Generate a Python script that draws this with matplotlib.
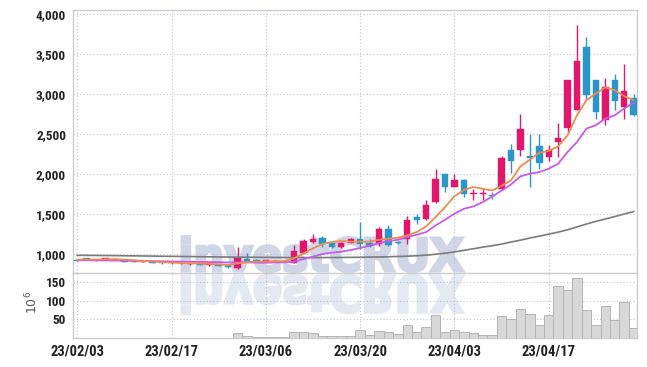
import matplotlib
matplotlib.use('Agg')
import matplotlib.pyplot as plt
import numpy as np
import pandas as pd
from matplotlib import font_manager
from matplotlib.font_manager import FontProperties
from matplotlib.textpath import TextPath
from matplotlib.patches import PathPatch
from matplotlib.transforms import Affine2D, IdentityTransform

# trading days (Mar 1 is a market holiday)
dates = pd.bdate_range('2023-02-03', '2023-04-28')
dates = dates[dates != pd.Timestamp('2023-03-01')]

opens = [918, 940, 916, 925, 930, 922, 910, 895, 902, 898,
         880, 878, 868, 875, 855, 860, 862, 824, 930, 925,
         898, 905, 912, 888, 1013, 1150, 1200, 1130, 1078, 1138,
         1190, 1130, 1117, 1304, 1145, 1188, 1463, 1433, 1642, 2000,
         1835, 1928, 1748, 1742, 1732, 1814, 2296, 2296, 2220, 2346,
         2212, 2400, 2576, 2806, 3589, 3175, 2681, 3175, 2840, 2957]
highs = [925, 946, 930, 946, 942, 928, 915, 910, 906, 902,
         895, 892, 885, 880, 878, 865, 866, 1078, 1010, 935,
         922, 915, 918, 1105, 1190, 1250, 1222, 1140, 1150, 1200,
         1400, 1190, 1333, 1354, 1160, 1467, 1500, 1667, 2063, 2002,
         2000, 1930, 1815, 1812, 1770, 2230, 2379, 2756, 2505, 2505,
         2367, 2643, 3180, 3866, 3711, 3183, 3196, 3250, 3372, 3007]
lows = [910, 918, 912, 920, 925, 895, 890, 890, 880, 875,
        875, 872, 862, 855, 850, 842, 825, 812, 905, 895,
        895, 898, 898, 880, 1005, 1130, 1088, 1075, 1070, 1130,
        1063, 1090, 1092, 1092, 1120, 1117, 1375, 1417, 1633, 1775,
        1833, 1705, 1667, 1675, 1688, 1800, 2011, 2220, 1835, 2057,
        2157, 2212, 2513, 2798, 2924, 2693, 2610, 2798, 2693, 2723]
closes = [914, 922, 926, 940, 936, 900, 896, 905, 885, 880,
          890, 888, 880, 860, 872, 848, 830, 940, 912, 902,
          918, 910, 904, 1033, 1163, 1185, 1118, 1080, 1140, 1185,
          1117, 1100, 1312, 1108, 1135, 1417, 1417, 1604, 1938, 1835,
          1928, 1751, 1755, 1758, 1722, 2195, 2157, 2559, 2203, 2136,
          2296, 2446, 3175, 3413, 2986, 2777, 3083, 2915, 3037, 2735]
volumes = [1, 1, 1, 1, 1, 1, 1, 1, 1, 1,
           1, 1, 1, 1, 1, 1, 1, 13.6, 6.5, 2,
           2, 2, 2, 16.3, 16.3, 12.6, 6.5, 6.5, 6.5, 4.5,
           21.6, 8.2, 19, 16.3, 11, 35, 17, 29.7, 61.8, 16.3,
           21.6, 17, 13.6, 8.2, 8.2, 59, 51, 77.8, 64.4, 35,
           61.8, 139, 128.6, 160.7, 75, 35, 85.8, 49, 96.5, 27]
ma_short = [925, 927, 926, 929, 931, 926, 918, 910, 902, 895,
            889, 885, 881, 877, 873, 866, 858, 878, 896, 900,
            904, 904, 908, 941, 1004, 1067, 1121, 1146, 1159, 1150,
            1150, 1150, 1175, 1188, 1200, 1229, 1271, 1342, 1458, 1583,
            1720, 1797, 1836, 1813, 1792, 1850, 1919, 2095, 2178, 2266,
            2287, 2346, 2484, 2735, 2924, 3007, 3083, 3049, 2974, 2924]
ma_mid = [918, 917, 916, 915, 914, 913, 911, 909, 907, 905,
          903, 901, 899, 897, 895, 893, 890, 890, 891, 888,
          887, 890, 891, 900, 933, 962, 996, 1013, 1025, 1046,
          1071, 1100, 1133, 1158, 1175, 1208, 1237, 1271, 1354, 1425,
          1500, 1563, 1592, 1646, 1717, 1790, 1868, 1969, 2002, 2023,
          2065, 2128, 2275, 2400, 2568, 2610, 2693, 2735, 2819, 2890]
ma_long = [980, 979, 978, 977, 976, 974, 973, 971, 970, 968,
           967, 965, 964, 962, 961, 959, 958, 957, 956, 955,
           954, 953, 952, 952, 951, 951, 951, 952, 953, 954,
           955, 957, 959, 962, 965, 969, 974, 982, 993, 1006,
           1022, 1042, 1062, 1082, 1100, 1120, 1146, 1170, 1196, 1220,
           1245, 1270, 1300, 1335, 1372, 1405, 1435, 1465, 1497, 1527]

UP = '#e2176c'
DOWN = '#2b97c9'
GRID = '#bcc4d8'
SPINE = '#cccccc'

names = {f.name for f in font_manager.fontManager.ttflist}
tick_font = next((n for n in ['Roboto Condensed', 'Liberation Sans Narrow', 'Roboto']
                  if n in names), 'DejaVu Sans')

W, H = 647, 367
fig = plt.figure(figsize=(W / 100, H / 100), dpi=100)
fig.patch.set_facecolor('white')

ax = fig.add_axes([73 / W, 1 - 273 / H, 564 / W, 263 / H])
axv = fig.add_axes([73 / W, 1 - 338 / H, 564 / W, 65 / H], sharex=ax)

x = np.arange(len(dates))
o = np.array(opens, float)
c = np.array(closes, float)
up = c >= o
cols = [UP if u else DOWN for u in up]

# candles
ax.vlines(x, lows, highs, colors=cols, linewidth=1.0, zorder=3)
body_h = np.maximum(np.abs(c - o), 8)
ax.bar(x, body_h, bottom=np.minimum(o, c), width=0.68, color=cols,
       edgecolor=cols, linewidth=0.3, zorder=4)

# moving averages
ax.plot(x, ma_long, color='#7b7b7b', linewidth=1.2, zorder=5)
ax.plot(x, ma_mid, color='#c95ae9', linewidth=1.3, zorder=5)
ax.plot(x, ma_short, color='#ef8a50', linewidth=1.3, zorder=5)

# volume
axv.bar(x, volumes, width=1.0, color='#d8d8d8', edgecolor='#b4b4b4',
        linewidth=0.7, zorder=3)

ax.set_xlim(-0.45, 59.36)
ax.set_ylim(758, 4054)
axv.set_ylim(0, 174)

ticks = list(range(0, len(dates), 10))
for a in (ax, axv):
    a.set_facecolor('none')
    a.set_xticks(ticks)
    a.grid(True, color=GRID, linestyle=(0, (1, 2)), linewidth=0.8, zorder=0)
    a.set_axisbelow(True)
    a.tick_params(length=0, colors='#222222', pad=5)
    for s in a.spines.values():
        s.set_color(SPINE)
        s.set_linewidth(1.0)

ax.set_yticks([1000, 1500, 2000, 2500, 3000, 3500, 4000])
ax.set_yticklabels(['{:,}'.format(v) for v in [1000, 1500, 2000, 2500, 3000, 3500, 4000]],
                   fontfamily=tick_font, fontsize=9.5, fontweight='bold')
ax.tick_params(axis='x', labelbottom=False)
ax.spines['bottom'].set_visible(False)

axv.set_yticks([50, 100, 150])
axv.set_yticklabels(['50', '100', '150'], fontfamily=tick_font, fontsize=9.5,
                    fontweight='bold')
axv.set_xticklabels([dates[i].strftime('%y/%m/%d') for i in ticks],
                    fontfamily=tick_font, fontsize=10.5, fontweight='bold')

fig.text(32 / W, 1 - 302 / H, r'$10^{6}$', rotation=90, ha='center', va='center',
         color='#555555', fontsize=9)

# watermark with reflection
fp = FontProperties(family='DejaVu Sans', weight='bold')
tp = TextPath((0, 0), 'investCRUX', size=50, prop=fp)
bb = tp.get_extents()
sx = (463 - 182) / bb.width
sy = (271 - 236) / bb.height
t1 = Affine2D().translate(-bb.x0, 0).scale(sx, sy).translate(182, H - 271)
t2 = Affine2D().translate(-bb.x0, 0).scale(sx, -sy * 1.1).translate(182, H - 276)
fig.add_artist(PathPatch(t1.transform_path(tp), transform=IdentityTransform(),
                         facecolor='#d0d6e6', edgecolor='#d0d6e6', linewidth=2.2,
                         zorder=-1))
fig.add_artist(PathPatch(t2.transform_path(tp), transform=IdentityTransform(),
                         facecolor='#e4e8f0', edgecolor='#e4e8f0', linewidth=2.2,
                         zorder=-1))

fig.savefig('out.png', dpi=100, facecolor='white')
